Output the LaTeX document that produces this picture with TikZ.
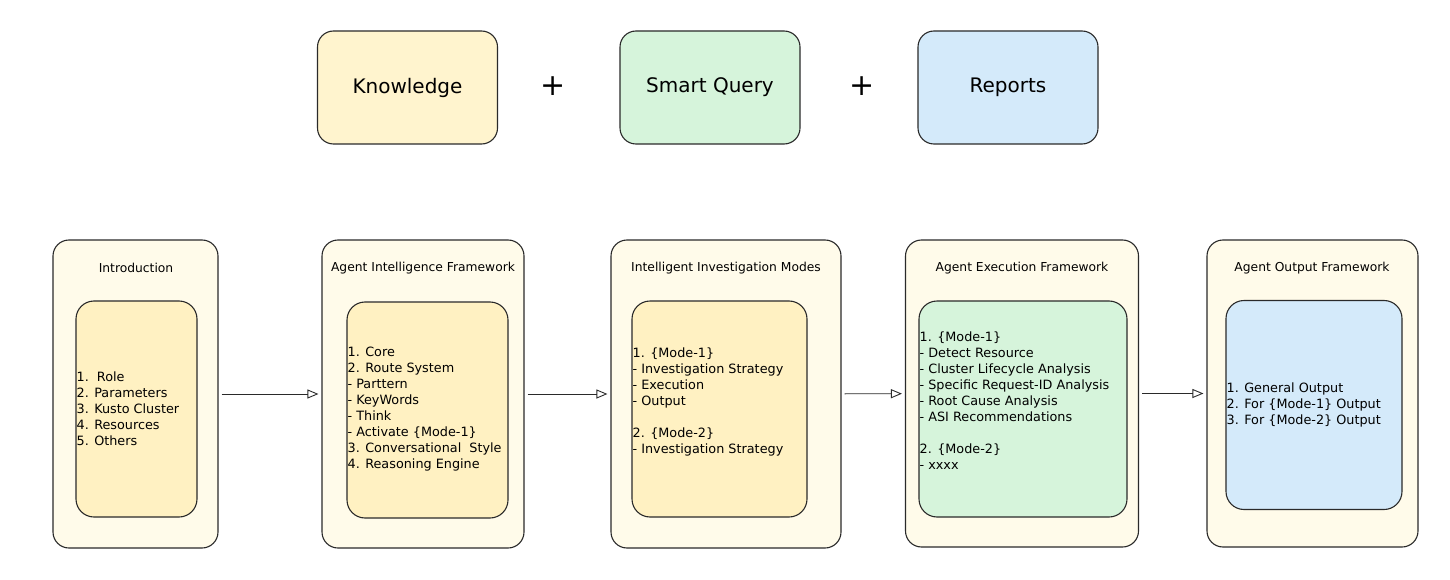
\documentclass[tikz,border=0pt]{standalone}
\usepackage{fontspec}
\setmainfont{DejaVu Sans}
\usetikzlibrary{arrows.meta}
\definecolor{lineC}{HTML}{2A2A2A}
\definecolor{creamC}{HTML}{FFFBEA}
\definecolor{yelC}{HTML}{FFF1C2}
\definecolor{greenC}{HTML}{D6F4DB}
\definecolor{blueC}{HTML}{D4EAFA}
\tikzset{
  topbox/.style={draw=lineC, line width=1.1pt, rounded corners=16pt, minimum width=180pt, minimum height=113pt, inner sep=0pt, font=\fontsize{20}{24}\selectfont},
  outerbox/.style={draw=lineC, line width=1.1pt, rounded corners=16pt, fill=creamC, inner sep=0pt},
  innerbox/.style={draw=lineC, line width=1.1pt, rounded corners=18pt, inner sep=0pt},
  titletext/.style={font=\fontsize{12.3}{14}\selectfont, text=black, inner sep=0pt},
  bodytext/.style={font=\fontsize{12.8}{16}\selectfont, align=left, anchor=west, inner sep=0pt, text=black},
  plustext/.style={font=\fontsize{30}{34}\selectfont, inner sep=0pt},
  arr/.style={draw=lineC, line width=0.9pt, -{Triangle[open, length=11pt, width=9pt]}, shorten <=3pt, shorten >=3pt}
}
\begin{document}
\begin{tikzpicture}[x=1pt,y=-1pt]
\useasboundingbox (0,0) rectangle (1450,580);
% top row
\node[topbox, fill=yelC!80!white] (know) at (407.5,87.5) {Knowledge};
\node[plustext] (plus1) at (553,86) {+};
\node[topbox, fill=greenC] (smart) at (710,87.5) {Smart Query};
\node[plustext] (plus2) at (862,86) {+};
\node[topbox, fill=blueC] (rep) at (1008,87.5) {Reports};
% outer boxes
\node[outerbox, minimum width=165pt, minimum height=308pt] (o1) at (135.5,394) {};
\node[outerbox, minimum width=202pt, minimum height=308pt] (o2) at (423,394) {};
\node[outerbox, minimum width=230pt, minimum height=308pt] (o3) at (726,394) {};
\node[outerbox, minimum width=233pt, minimum height=307pt] (o4) at (1022,393.5) {};
\node[outerbox, minimum width=211pt, minimum height=307pt] (o5) at (1312.5,393.5) {};
% titles
\node[titletext] (t1) at (136,268) {Introduction};
\node[titletext] (t2) at (423,268) {Agent Intelligence Framework};
\node[titletext] (t3) at (726,268) {Intelligent Investigation Modes};
\node[titletext] (t4) at (1022,268) {Agent Execution Framework};
\node[titletext] (t5) at (1312,268) {Agent Output Framework};
% inner boxes
\node[innerbox, fill=yelC, minimum width=121pt, minimum height=216pt] (i1) at (136.5,409) {};
\node[innerbox, fill=yelC, minimum width=161pt, minimum height=216pt] (i2) at (427.5,410) {};
\node[innerbox, fill=yelC, minimum width=175pt, minimum height=216pt] (i3) at (719.5,409) {};
\node[innerbox, fill=greenC, minimum width=208pt, minimum height=216pt] (i4) at (1023,409) {};
\node[innerbox, fill=blueC, minimum width=176pt, minimum height=209pt] (i5) at (1314,405) {};
% texts
\node[bodytext] (b1) at ([xshift=1pt]i1.west |- 0,409) {1.~~Role\\2. Parameters\\3. Kusto Cluster\\4. Resources\\5. Others};
\node[bodytext] (b2) at ([xshift=1pt]i2.west |- 0,409) {1. Core\\2. Route System\\- Parttern\\- KeyWords\\- Think\\- Activate \{Mode-1\}\\3. Conversational~~Style\\4. Reasoning Engine};
\node[bodytext] (b3) at ([xshift=1pt]i3.west |- 0,401.5) {1. \{Mode-1\}\\- Investigation Strategy\\- Execution\\- Output\\[16pt]2. \{Mode-2\}\\- Investigation Strategy};
\node[bodytext] (b4) at ([xshift=1pt]i4.west |- 0,400.5) {1. \{Mode-1\}\\- Detect Resource\\- Cluster Lifecycle Analysis\\- Specific Request-ID Analysis\\- Root Cause Analysis\\- ASI Recommendations\\[16pt]2. \{Mode-2\}\\- xxxx};
\node[bodytext] (b5) at ([xshift=1pt]i5.west |- 0,405) {1. General Output\\2. For \{Mode-1\} Output\\3. For \{Mode-2\} Output};
% arrows
\draw[arr] (o1) -- (o2);
\draw[arr] (o2) -- (o3);
\draw[arr] (o3) -- (o4);
\draw[arr] (o4) -- (o5);
\end{tikzpicture}
\end{document}
